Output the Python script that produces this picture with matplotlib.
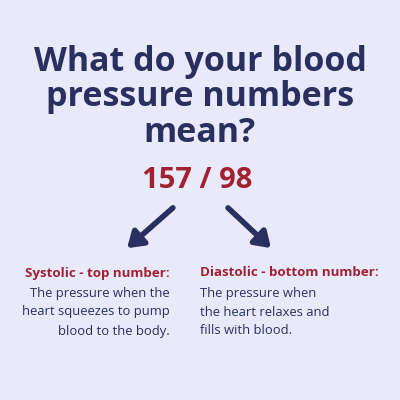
import matplotlib.pyplot as plt

# Chart content
title_lines = ["What do your blood", "pressure numbers", "mean?"]
systolic = 157
diastolic = 98
left_head = "Systolic - top number:"
left_body = ["The pressure when the", "heart squeezes to pump", "blood to the body."]
right_head = "Diastolic - bottom number:"
right_body = ["The pressure when", "the heart relaxes and", "fills with blood."]

bg = "#e8eafb"
navy = "#2a2f5f"
red = "#a3202f"

fig = plt.figure(figsize=(4, 4), dpi=100)
fig.patch.set_facecolor(bg)
ax = fig.add_axes([0, 0, 1, 1])
ax.set_xlim(0, 400)
ax.set_ylim(400, 0)
ax.axis("off")
ax.set_facecolor(bg)

plt.rcParams['font.family'] = ['Open Sans', 'DejaVu Sans']

for i, line in enumerate(title_lines):
    ax.text(200, 62 + i * 35.5, line, ha='center', va='center', fontsize=24.5,
            fontweight='bold', color=navy)

ax.text(197, 180, f"{systolic} / {diastolic}", ha='center', va='center',
        fontsize=21, fontweight='bold', color=red)

arrow = dict(arrowstyle='-|>,head_length=0.9,head_width=0.6', lw=4, color=navy)
ax.annotate("", xy=(125, 250), xytext=(175, 206), arrowprops=arrow)
ax.annotate("", xy=(273, 250), xytext=(226, 206), arrowprops=arrow)

ax.text(170, 273, left_head, ha='right', va='center', fontsize=9.6,
        fontweight='bold', color=red)
for i, line in enumerate(left_body):
    ax.text(170, 293 + i * 19, line, ha='right', va='center', fontsize=9.4, color=navy)

ax.text(200, 273, right_head, ha='left', va='center', fontsize=9.6,
        fontweight='bold', color=red)
for i, line in enumerate(right_body):
    ax.text(200, 293 + i * 19, line, ha='left', va='center', fontsize=9.4, color=navy)

fig.savefig("out.png", facecolor=bg)
